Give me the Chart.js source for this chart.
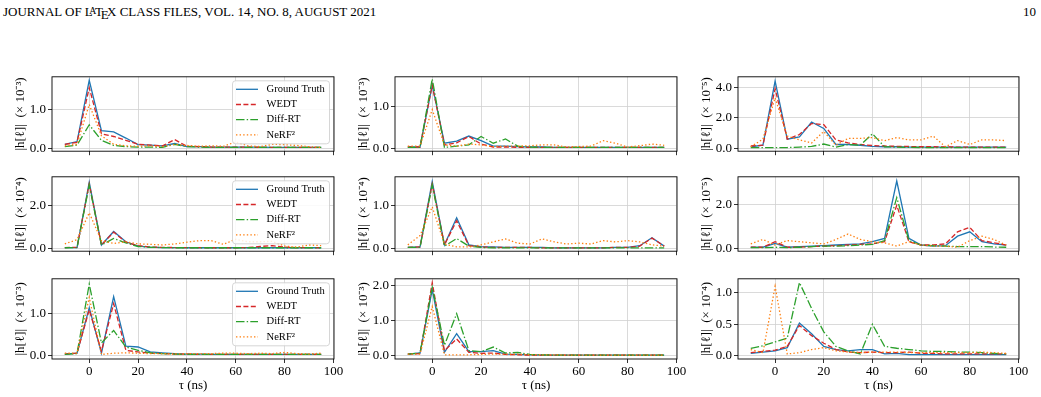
<!DOCTYPE html>
<html>
<head>
<meta charset="utf-8">
<script src="https://cdn.jsdelivr.net/npm/chart.js@4.4.1/dist/chart.umd.min.js"></script>
<style>
body { margin: 0; background: #fff; width: 1041px; height: 397px; overflow: hidden; position: relative; font-family: "Liberation Serif", serif; }
.hdr { position: absolute; top: 4px; font-size: 13px; color: #000; white-space: nowrap; }
.sa { font-size: 0.75em; vertical-align: 0.25em; margin-left: -0.36em; margin-right: -0.15em; }
.se { vertical-align: -0.5ex; margin-left: -0.1667em; margin-right: -0.125em; }
</style>
</head>
<body>
<div class="hdr" style="left:3px">JOURNAL OF L<span class="sa">A</span>T<span class="se">E</span>X CLASS FILES, VOL. 14, NO. 8, AUGUST 2021</div>
<div class="hdr" style="left:1023px">10</div>
<script>
// delay taps (ns), same for every panel
const tau = [-10, -5, 0, 5, 10, 15, 20, 25, 30, 35, 40, 45, 50, 55, 60, 65, 70, 75, 80, 85, 90, 95];
const names = ['Ground Truth', 'WEDT', 'Diff-RT', 'NeRF\u00b2'];
const xTicks = [0, 20, 40, 60, 80, 100];

// row 1
const gt1 = [0.10,0.17,1.74,0.45,0.42,0.26,0.09,0.08,0.06,0.12,0.04,0.04,0.03,0.03,0.03,0.03,0.03,0.02,0.02,0.02,0.02,0.02];
const wedt1 = [0.10,0.15,1.55,0.37,0.30,0.20,0.10,0.08,0.06,0.22,0.05,0.04,0.03,0.03,0.03,0.03,0.02,0.02,0.02,0.02,0.02,0.02];
const diff1 = [0.04,0.08,0.60,0.20,0.07,0.04,0.03,0.03,0.02,0.10,0.04,0.03,0.02,0.02,0.02,0.02,0.02,0.02,0.02,0.02,0.02,0.02];
const nerf1 = [0.06,0.10,1.12,0.32,0.10,0.06,0.05,0.06,0.04,0.10,0.07,0.05,0.06,0.05,0.16,0.06,0.04,0.10,0.09,0.07,0.04,0.02];

const gt2 = [0.03,0.03,1.50,0.12,0.17,0.29,0.18,0.05,0.05,0.04,0.03,0.03,0.02,0.02,0.02,0.02,0.02,0.02,0.02,0.02,0.02,0.02];
const wedt2 = [0.03,0.03,1.50,0.08,0.13,0.28,0.10,0.03,0.03,0.02,0.02,0.02,0.02,0.02,0.02,0.02,0.02,0.02,0.02,0.02,0.02,0.02];
const diff2 = [0.02,0.02,1.65,0.02,0.05,0.08,0.28,0.12,0.22,0.05,0.03,0.02,0.02,0.02,0.02,0.02,0.02,0.02,0.02,0.02,0.02,0.02];
const nerf2 = [0.05,0.05,0.92,0.08,0.05,0.10,0.08,0.04,0.05,0.05,0.06,0.08,0.08,0.03,0.04,0.05,0.18,0.12,0.03,0.06,0.10,0.07];

const gt3 = [0.10,0.20,4.40,0.60,0.75,1.72,1.30,0.25,0.25,0.20,0.12,0.10,0.10,0.08,0.08,0.08,0.08,0.08,0.08,0.08,0.08,0.08];
const wedt3 = [0.15,0.20,3.90,0.60,0.90,1.62,1.55,0.55,0.35,0.25,0.18,0.15,0.13,0.12,0.10,0.10,0.09,0.08,0.08,0.08,0.08,0.08];
const diff3 = [0.05,0.05,0.05,0.05,0.08,0.12,0.28,0.08,0.25,0.20,0.95,0.10,0.08,0.06,0.05,0.05,0.05,0.05,0.05,0.05,0.05,0.05];
const nerf3 = [0.10,0.60,3.30,0.80,0.55,0.35,1.10,0.20,0.65,0.65,0.70,0.50,0.70,0.55,0.55,0.80,0.10,0.50,0.25,0.55,0.55,0.50];

// row 2
const gt4 = [0.03,0.03,3.08,0.15,0.78,0.30,0.10,0.05,0.03,0.03,0.02,0.02,0.02,0.02,0.02,0.02,0.02,0.02,0.02,0.02,0.02,0.02];
const wedt4 = [0.03,0.04,3.00,0.15,0.75,0.28,0.12,0.05,0.04,0.03,0.03,0.03,0.02,0.02,0.02,0.03,0.08,0.12,0.05,0.03,0.03,0.02];
const diff4 = [0.02,0.03,2.95,0.15,0.45,0.25,0.08,0.04,0.03,0.02,0.02,0.02,0.02,0.02,0.02,0.02,0.02,0.02,0.02,0.02,0.02,0.02];
const nerf4 = [0.20,0.40,1.65,0.35,0.22,0.30,0.20,0.18,0.15,0.20,0.28,0.35,0.35,0.18,0.42,0.30,0.30,0.32,0.10,0.05,0.15,0.12];

const gt5 = [0.02,0.03,1.58,0.08,0.72,0.08,0.04,0.03,0.02,0.02,0.02,0.02,0.01,0.01,0.01,0.01,0.01,0.02,0.02,0.06,0.25,0.05];
const wedt5 = [0.02,0.03,1.52,0.08,0.65,0.06,0.03,0.02,0.02,0.02,0.02,0.01,0.01,0.01,0.01,0.01,0.01,0.02,0.02,0.05,0.24,0.05];
const diff5 = [0.02,0.02,1.50,0.05,0.23,0.05,0.02,0.01,0.01,0.01,0.01,0.01,0.01,0.01,0.01,0.01,0.01,0.01,0.01,0.01,0.01,0.01];
const nerf5 = [0.08,0.30,0.98,0.10,0.03,0.03,0.08,0.15,0.22,0.12,0.10,0.22,0.15,0.10,0.12,0.10,0.18,0.15,0.18,0.15,0.08,0.05];

const gt6 = [0.05,0.05,0.22,0.05,0.08,0.10,0.12,0.15,0.18,0.20,0.30,0.45,3.05,0.45,0.15,0.10,0.12,0.55,0.75,0.30,0.20,0.15];
const wedt6 = [0.05,0.05,0.30,0.05,0.05,0.08,0.10,0.12,0.15,0.18,0.20,0.30,1.95,0.30,0.15,0.15,0.20,0.75,0.95,0.35,0.25,0.15];
const diff6 = [0.03,0.03,0.05,0.03,0.05,0.08,0.10,0.10,0.12,0.15,0.18,0.35,2.30,0.35,0.15,0.12,0.10,0.08,0.08,0.08,0.06,0.05];
const nerf6 = [0.20,0.40,0.15,0.35,0.30,0.25,0.20,0.40,0.65,0.40,0.30,0.25,0.10,0.30,0.15,0.10,0.10,0.05,0.35,0.55,0.40,0.15];

// row 3
const gt7 = [0.03,0.05,1.15,0.05,1.42,0.22,0.20,0.08,0.06,0.04,0.03,0.03,0.02,0.02,0.02,0.02,0.02,0.02,0.02,0.02,0.02,0.02];
const wedt7 = [0.03,0.05,1.10,0.10,1.25,0.12,0.08,0.05,0.04,0.03,0.03,0.02,0.02,0.02,0.02,0.02,0.02,0.02,0.02,0.02,0.02,0.02];
const diff7 = [0.02,0.04,1.72,0.30,0.60,0.20,0.12,0.06,0.04,0.03,0.02,0.02,0.02,0.02,0.02,0.02,0.02,0.02,0.02,0.02,0.02,0.02];
const nerf7 = [0.05,0.05,1.40,0.02,0.05,0.06,0.05,0.04,0.04,0.03,0.04,0.04,0.04,0.05,0.05,0.04,0.05,0.04,0.07,0.04,0.03,0.05];

const gt8 = [0.05,0.08,1.88,0.10,0.63,0.12,0.12,0.15,0.05,0.04,0.03,0.02,0.02,0.02,0.02,0.02,0.02,0.02,0.02,0.02,0.02,0.02];
const wedt8 = [0.05,0.06,2.08,0.15,0.48,0.10,0.07,0.08,0.04,0.03,0.02,0.02,0.02,0.02,0.02,0.02,0.02,0.02,0.02,0.02,0.02,0.02];
const diff8 = [0.05,0.08,1.95,0.30,1.20,0.15,0.12,0.25,0.08,0.10,0.04,0.03,0.02,0.02,0.02,0.02,0.02,0.02,0.02,0.02,0.02,0.02];
const nerf8 = [0.05,0.05,1.40,0.03,0.03,0.03,0.04,0.05,0.05,0.05,0.03,0.03,0.03,0.02,0.02,0.02,0.02,0.02,0.02,0.02,0.02,0.02];

const gt9 = [0.04,0.06,0.08,0.13,0.52,0.35,0.15,0.10,0.08,0.10,0.10,0.03,0.04,0.02,0.02,0.02,0.02,0.02,0.02,0.02,0.02,0.02];
const wedt9 = [0.05,0.07,0.09,0.15,0.48,0.32,0.20,0.10,0.06,0.05,0.06,0.05,0.05,0.06,0.04,0.04,0.03,0.03,0.03,0.03,0.03,0.03];
const diff9 = [0.12,0.16,0.22,0.28,1.16,0.75,0.38,0.15,0.08,0.03,0.50,0.15,0.12,0.10,0.08,0.07,0.07,0.06,0.06,0.05,0.04,0.03];
const nerf9 = [0.10,0.05,1.10,0.03,0.05,0.10,0.13,0.08,0.06,0.05,0.06,0.06,0.06,0.05,0.05,0.05,0.05,0.05,0.05,0.06,0.05,0.04];

// y ticks and the power of ten for each panel
const yTicks1 = [0, 1], yTicks2 = [0, 1], yTicks3 = [0, 2, 4];
const yTicks4 = [0, 2], yTicks5 = [0, 1], yTicks6 = [0, 2];
const yTicks7 = [0, 1], yTicks8 = [0, 1, 2], yTicks9 = [0, 0.5, 1];
const exps = ['\u207b\u00b3', '\u207b\u00b3', '\u207b\u2075', '\u207b\u2074', '\u207b\u2074', '\u207b\u2075', '\u207b\u00b3', '\u207b\u00b3', '\u207b\u2074'];

const colors = ['#1f77b4', '#d62728', '#2ca02c', '#ff7f0e'];
const dashes = [[], [5, 2.4], [8.5, 2.2, 1.4, 2.2], [1.4, 2.2]];
const lw = 1.3;
const font = { family: '"Liberation Serif", serif', size: 13 };
const gridC = '#d0d0d0';

// layout of the 3x3 grid (plot area boxes)
const colL = [52, 395, 738], colW = [282, 282, 281];
const rowT = [73, 173, 275], rowH = 84;

const frame = {
  id: 'frame',
  afterDraw(ch) {
    const a = ch.chartArea, c = ch.ctx;
    c.save();
    c.strokeStyle = '#000';
    c.lineWidth = 0.9;
    c.strokeRect(a.left, a.top, a.right - a.left, a.bottom - a.top);
    c.restore();
  }
};

function boxLegend(show) {
  return {
    id: 'boxLegend',
    afterDatasetsDraw(ch) {
      if (!show) return;
      const a = ch.chartArea, c = ch.ctx;
      const bw = 97, bh = 63, r = 3;
      const bx = a.right - 4.5 - bw, by = a.top + 4;
      c.save();
      c.beginPath();
      c.moveTo(bx + r, by);
      c.arcTo(bx + bw, by, bx + bw, by + bh, r);
      c.arcTo(bx + bw, by + bh, bx, by + bh, r);
      c.arcTo(bx, by + bh, bx, by, r);
      c.arcTo(bx, by, bx + bw, by, r);
      c.closePath();
      c.fillStyle = 'rgba(255,255,255,0.85)';
      c.fill();
      c.strokeStyle = '#cccccc';
      c.lineWidth = 0.8;
      c.stroke();
      ch.data.datasets.forEach((d, k) => {
        const y = by + 8.5 + k * 15.2;
        c.beginPath();
        c.setLineDash(d.borderDash);
        c.strokeStyle = d.borderColor;
        c.lineWidth = d.borderWidth;
        c.moveTo(bx + 3.5, y);
        c.lineTo(bx + 25.5, y);
        c.stroke();
        c.setLineDash([]);
        c.fillStyle = '#000';
        c.font = '10.6px "Liberation Serif", serif';
        c.textBaseline = 'middle';
        c.fillText(d.label, bx + 34, y);
      });
      c.restore();
    }
  };
}

function panel(r, col, series, yMin, yMax, yTicks, exp) {
  const axW = 52, padTop = 6, padR = 12;
  const xH = r === 2 ? 36 : 4;
  const div = document.createElement('div');
  div.style.cssText = `position:absolute;left:${colL[col] - axW}px;top:${rowT[r] - padTop}px;` +
    `width:${axW + colW[col] + padR}px;height:${padTop + rowH + xH}px`;
  const cv = document.createElement('canvas');
  div.appendChild(cv);
  document.body.appendChild(div);

  new Chart(cv, {
    type: 'line',
    data: {
      datasets: series.map((s, k) => ({
        label: names[k],
        data: tau.map((t, j) => ({ x: t, y: s[j] })),
        borderColor: colors[k],
        borderDash: dashes[k],
        borderWidth: lw,
        pointRadius: 0,
        fill: false,
        tension: 0,
        order: 3 - k
      }))
    },
    options: {
      responsive: true,
      maintainAspectRatio: false,
      animation: false,
      layout: { padding: { top: padTop, right: padR, left: 0, bottom: 0 } },
      plugins: { legend: { display: false }, tooltip: { enabled: false } },
      scales: {
        x: {
          type: 'linear', min: -15.25, max: 100.25,
          afterBuildTicks: s => { s.ticks = xTicks.map(v => ({ value: v })); },
          afterFit: s => { s.height = xH; },
          border: { display: false },
          grid: { color: gridC, lineWidth: 0.8, tickColor: '#000', tickLength: 4 },
          ticks: { display: r === 2, color: '#000', font: font, padding: 1, maxRotation: 0 },
          title: { display: r === 2, text: '\u03c4 (ns)', color: '#000', font: font, padding: { top: 0, bottom: 2 } }
        },
        y: {
          min: yMin, max: yMax,
          afterBuildTicks: s => { s.ticks = yTicks.map(v => ({ value: v })); },
          afterFit: s => { s.width = axW; },
          border: { display: false },
          grid: { color: gridC, lineWidth: 0.8, tickColor: '#000', tickLength: 4 },
          ticks: { color: '#000', font: font, padding: 2, callback: v => v.toFixed(1) },
          title: { display: true, text: '|h[\u2113]|  (\u00d7 10' + exp + ')', color: '#000', font: font, padding: { top: 12.5, bottom: 0 } }
        }
      }
    },
    plugins: [boxLegend(col === 0), frame]
  });
}

panel(0, 0, [gt1, wedt1, diff1, nerf1], -0.077, 1.83, yTicks1, exps[0]);
panel(0, 1, [gt2, wedt2, diff2, nerf2], -0.07, 1.70, yTicks2, exps[1]);
panel(0, 2, [gt3, wedt3, diff3, nerf3], -0.19, 4.68, yTicks3, exps[2]);
panel(1, 0, [gt4, wedt4, diff4, nerf4], -0.14, 3.33, yTicks4, exps[3]);
panel(1, 1, [gt5, wedt5, diff5, nerf5], -0.07, 1.69, yTicks5, exps[4]);
panel(1, 2, [gt6, wedt6, diff6, nerf6], -0.13, 3.24, yTicks6, exps[5]);
panel(2, 0, [gt7, wedt7, diff7, nerf7], -0.09, 1.85, yTicks7, exps[6]);
panel(2, 1, [gt8, wedt8, diff8, nerf8], -0.09, 2.19, yTicks8, exps[7]);
panel(2, 2, [gt9, wedt9, diff9, nerf9], -0.05, 1.22, yTicks9, exps[8]);
</script>
</body>
</html>
